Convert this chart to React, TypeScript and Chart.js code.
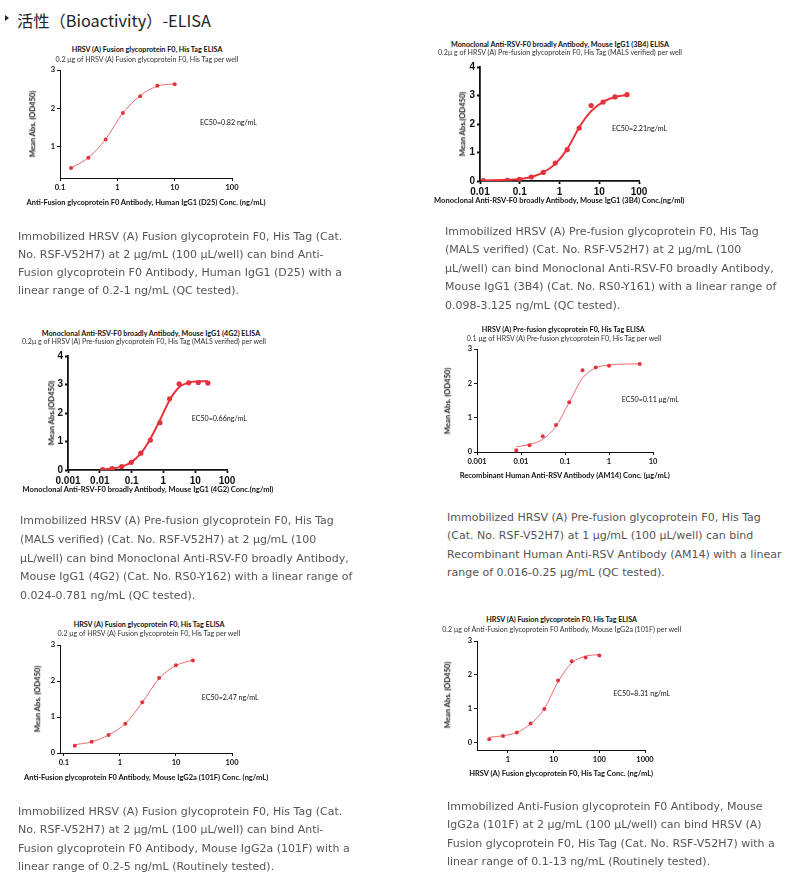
import React, { useEffect, useRef } from "react";
import { Chart, registerables } from "chart.js";
Chart.register(...registerables);

// ---------------- Data ----------------
// Chart 1
const c1Title = "HRSV (A) Fusion glycoprotein F0, His Tag ELISA";
const c1Sub = "0.2 μg of HRSV (A) Fusion glycoprotein F0, His Tag per well";
const c1XLabel = "Anti-Fusion glycoprotein F0 Antibody, Human IgG1 (D25) Conc. (ng/mL)";
const c1YLabel = "Mean Abs. (OD450)";
const c1EC50 = "EC50=0.82 ng/mL";
const c1Conc = [0.156, 0.3125, 0.625, 1.25, 2.5, 5, 10];
const c1Abs = [0.45, 0.72, 1.19, 1.88, 2.32, 2.59, 2.63];
const c1Fit = [0.45, 0.72, 1.2, 1.88, 2.33, 2.58, 2.64];
const c1XTicks = [0.1, 1, 10, 100];
const c1YTicks = [1, 2, 3];

// Chart 2
const c2Title = "Monoclonal Anti-RSV-F0 broadly Antibody, Mouse IgG1 (3B4) ELISA";
const c2Sub = "0.2μ g of HRSV (A) Pre-fusion glycoprotein F0, His Tag (MALS verified) per well";
const c2XLabel = "Monoclonal Anti-RSV-F0 broadly Antibody, Mouse IgG1 (3B4) Conc.(ng/ml)";
const c2YLabel = "Mean Abs.(OD450)";
const c2EC50 = "EC50=2.21ng/mL";
const c2Conc = [0.0122, 0.0488, 0.0977, 0.195, 0.39, 0.78, 1.5625, 3.125, 6.25, 12.5, 25, 50];
const c2Abs = [0.01, 0.02, 0.06, 0.14, 0.3, 0.63, 1.1, 1.86, 2.65, 2.77, 2.95, 3.03];
const c2Fit = [0.02, 0.04, 0.07, 0.14, 0.3, 0.6, 1.12, 1.88, 2.45, 2.78, 2.94, 3.02];
const c2XTicks = [0.01, 0.1, 1, 10, 100];
const c2YTicks = [0, 1, 2, 3, 4];

// Chart 3
const c3Title = "Monoclonal Anti-RSV-F0 broadly Antibody, Mouse IgG1 (4G2) ELISA";
const c3Sub = "0.2μ g of HRSV (A) Pre-fusion glycoprotein F0, His Tag (MALS verified) per well";
const c3XLabel = "Monoclonal Anti-RSV-F0 broadly Antibody, Mouse IgG1 (4G2) Conc.(ng/ml)";
const c3YLabel = "Mean Abs.(OD450)";
const c3EC50 = "EC50=0.66ng/mL";
const c3Conc = [0.0122, 0.0244, 0.0488, 0.0977, 0.195, 0.39, 0.78, 1.5625, 3.125, 6.25, 12.5, 25];
const c3Abs = [0.01, 0.05, 0.12, 0.27, 0.59, 1.05, 1.66, 2.5, 3.02, 3.06, 3.07, 3.05];
const c3Fit = [0.02, 0.05, 0.12, 0.27, 0.58, 1.1, 1.75, 2.45, 2.9, 3.07, 3.11, 3.12];
const c3XTicks = [0.001, 0.01, 0.1, 1, 10, 100];
const c3YTicks = [0, 1, 2, 3, 4];

// Chart 4
const c4Title = "HRSV (A) Pre-fusion glycoprotein F0, His Tag ELISA";
const c4Sub = "0.1 μg of HRSV (A) Pre-fusion glycoprotein F0, His Tag per well";
const c4XLabel = "Recombinant Human Anti-RSV Antibody (AM14) Conc. (μg/mL)";
const c4YLabel = "Mean Abs. (OD450)";
const c4EC50 = "EC50=0.11 μg/mL";
const c4Conc = [0.0078, 0.0156, 0.03125, 0.0625, 0.125, 0.25, 0.5, 1, 5];
const c4Abs = [0.05, 0.2, 0.46, 0.79, 1.45, 2.38, 2.46, 2.51, 2.56];
const c4Fit = [0.15, 0.22, 0.37, 0.75, 1.45, 2.15, 2.45, 2.53, 2.57];
const c4XTicks = [0.001, 0.01, 0.1, 1, 10];
const c4YTicks = [0, 1, 2, 3];

// Chart 5
const c5Title = "HRSV (A) Fusion glycoprotein F0, His Tag ELISA";
const c5Sub = "0.2 μg of HRSV (A) Fusion glycoprotein F0, His Tag per well";
const c5XLabel = "Anti-Fusion glycoprotein F0 Antibody, Mouse IgG2a (101F) Conc. (ng/mL)";
const c5YLabel = "Mean Abs. (OD450)";
const c5EC50 = "EC50=2.47 ng/mL";
const c5Conc = [0.156, 0.3125, 0.625, 1.25, 2.5, 5, 10, 20];
const c5Abs = [0.2, 0.31, 0.5, 0.81, 1.41, 2.08, 2.44, 2.57];
const c5Fit = [0.23, 0.31, 0.5, 0.82, 1.4, 2.07, 2.43, 2.58];
const c5XTicks = [0.1, 1, 10, 100];
const c5YTicks = [0, 1, 2, 3];

// Chart 6
const c6Title = "HRSV (A) Fusion glycoprotein F0, His Tag ELISA";
const c6Sub = "0.2 μg of Anti-Fusion glycoprotein F0 Antibody, Mouse IgG2a (101F) per well";
const c6XLabel = "HRSV (A) Fusion glycoprotein F0, His Tag Conc. (ng/mL)";
const c6YLabel = "Mean Abs. (OD450)";
const c6EC50 = "EC50=8.31 ng/mL";
const c6Conc = [0.39, 0.78, 1.5625, 3.125, 6.25, 12.5, 25, 50, 100];
const c6Abs = [0.1, 0.19, 0.3, 0.56, 0.99, 1.83, 2.4, 2.51, 2.57];
const c6Fit = [0.16, 0.2, 0.3, 0.55, 1.0, 1.8, 2.35, 2.55, 2.6];
const c6XTicks = [1, 10, 100, 1000];
const c6YTicks = [0, 1, 2, 3];

// Paragraphs
const heading = "活性（Bioactivity）-ELISA";
const p1 = [
  "Immobilized HRSV (A) Fusion glycoprotein F0, His Tag (Cat.",
  "No. RSF-V52H7) at 2 μg/mL (100 μL/well) can bind Anti-",
  "Fusion glycoprotein F0 Antibody, Human IgG1 (D25) with a",
  "linear range of 0.2-1 ng/mL (QC tested).",
];
const p2 = [
  "Immobilized HRSV (A) Pre-fusion glycoprotein F0, His Tag",
  "(MALS verified) (Cat. No. RSF-V52H7) at 2 μg/mL (100",
  "μL/well) can bind Monoclonal Anti-RSV-F0 broadly Antibody,",
  "Mouse IgG1 (3B4) (Cat. No. RS0-Y161) with a linear range of",
  "0.098-3.125 ng/mL (QC tested).",
];
const p3 = [
  "Immobilized HRSV (A) Pre-fusion glycoprotein F0, His Tag",
  "(MALS verified) (Cat. No. RSF-V52H7) at 2 μg/mL (100",
  "μL/well) can bind Monoclonal Anti-RSV-F0 broadly Antibody,",
  "Mouse IgG1 (4G2) (Cat. No. RS0-Y162) with a linear range of",
  "0.024-0.781 ng/mL (QC tested).",
];
const p4 = [
  "Immobilized HRSV (A) Pre-fusion glycoprotein F0, His Tag",
  "(Cat. No. RSF-V52H7) at 1 μg/mL (100 μL/well) can bind",
  "Recombinant Human Anti-RSV Antibody (AM14) with a linear",
  "range of 0.016-0.25 μg/mL (QC tested).",
];
const p5 = [
  "Immobilized HRSV (A) Fusion glycoprotein F0, His Tag (Cat.",
  "No. RSF-V52H7) at 2 μg/mL (100 μL/well) can bind Anti-",
  "Fusion glycoprotein F0 Antibody, Mouse IgG2a (101F) with a",
  "linear range of 0.2-5 ng/mL (Routinely tested).",
];
const p6 = [
  "Immobilized Anti-Fusion glycoprotein F0 Antibody, Mouse",
  "IgG2a (101F) at 2 μg/mL (100 μL/well) can bind HRSV (A)",
  "Fusion glycoprotein F0, His Tag (Cat. No. RSF-V52H7) with a",
  "linear range of 0.1-13 ng/mL (Routinely tested).",
];

// ---------------- Layout / style ----------------
type Spec = {
  conc: number[]; abs: number[]; fit: number[];
  xTicks: number[]; yTicks: number[];
  xMin: number; xMax: number; yMin: number; yMax: number;
  L: number; R: number; T: number; B: number;
  heavy: boolean;
  title: string; sub: string; xLabel: string; yLabel: string; ec50: string;
  titleX: number; titleY: number; subX: number; subY: number;
  yLabX: number; xLabY: number; ecX: number; ecY: number;
};

const specs: Spec[] = [
  { conc: c1Conc, abs: c1Abs, fit: c1Fit, xTicks: c1XTicks, yTicks: c1YTicks,
    xMin: 0.1, xMax: 100, yMin: 0.19, yMax: 3, L: 60, R: 232, T: 70, B: 178, heavy: false,
    title: c1Title, sub: c1Sub, xLabel: c1XLabel, yLabel: c1YLabel, ec50: c1EC50,
    titleX: 147, titleY: 50, subX: 147, subY: 59.5, yLabX: 33, xLabY: 203, ecX: 200, ecY: 123 },
  { conc: c2Conc, abs: c2Abs, fit: c2Fit, xTicks: c2XTicks, yTicks: c2YTicks,
    xMin: 0.01, xMax: 100, yMin: 0, yMax: 4, L: 480, R: 638.5, T: 66.7, B: 180.3, heavy: true,
    title: c2Title, sub: c2Sub, xLabel: c2XLabel, yLabel: c2YLabel, ec50: c2EC50,
    titleX: 560, titleY: 45, subX: 560, subY: 53.3, yLabX: 463, xLabY: 200.7, ecX: 612, ecY: 129 },
  { conc: c3Conc, abs: c3Abs, fit: c3Fit, xTicks: c3XTicks, yTicks: c3YTicks,
    xMin: 0.001, xMax: 100, yMin: 0, yMax: 4, L: 68.3, R: 227.7, T: 355.7, B: 469.3, heavy: true,
    title: c3Title, sub: c3Sub, xLabel: c3XLabel, yLabel: c3YLabel, ec50: c3EC50,
    titleX: 151, titleY: 334, subX: 144, subY: 342.3, yLabX: 51.7, xLabY: 490, ecX: 191.7, ecY: 419 },
  { conc: c4Conc, abs: c4Abs, fit: c4Fit, xTicks: c4XTicks, yTicks: c4YTicks,
    xMin: 0.001, xMax: 10, yMin: 0, yMax: 3, L: 476.7, R: 652.7, T: 349.3, B: 452.7, heavy: false,
    title: c4Title, sub: c4Sub, xLabel: c4XLabel, yLabel: c4YLabel, ec50: c4EC50,
    titleX: 563.3, titleY: 330, subX: 564, subY: 339, yLabX: 448.3, xLabY: 476, ecX: 621.7, ecY: 400 },
  { conc: c5Conc, abs: c5Abs, fit: c5Fit, xTicks: c5XTicks, yTicks: c5YTicks,
    xMin: 0.085, xMax: 100, yMin: 0, yMax: 3, L: 60, R: 232.3, T: 645, B: 753, heavy: false,
    title: c5Title, sub: c5Sub, xLabel: c5XLabel, yLabel: c5YLabel, ec50: c5EC50,
    titleX: 149, titleY: 625, subX: 149, subY: 634.3, yLabX: 38.3, xLabY: 778.3, ecX: 201.7, ecY: 698.3 },
  { conc: c6Conc, abs: c6Abs, fit: c6Fit, xTicks: c6XTicks, yTicks: c6YTicks,
    xMin: 0.21, xMax: 1000, yMin: -0.22, yMax: 3, L: 477.3, R: 645, T: 640.7, B: 750, heavy: false,
    title: c6Title, sub: c6Sub, xLabel: c6XLabel, yLabel: c6YLabel, ec50: c6EC50,
    titleX: 561.7, titleY: 620, subX: 561.7, subY: 630, yLabX: 448.3, xLabY: 774, ecX: 613.3, ecY: 694 },
];

const RED = "#e3323e";
const CHART_FONT = "Lato, 'Open Sans', sans-serif";

function MiniChart({ s }: { s: Spec }) {
  const ref = useRef<HTMLCanvasElement>(null);
  const padL = 40, padT = 12, padR = 28, padB = 26;
  const w = Math.round(s.R - s.L + padL + padR);
  const h = Math.round(s.B - s.T + padT + padB);
  useEffect(() => {
    const tickFont: any = s.heavy
      ? { family: "'Liberation Sans', Arial, sans-serif", size: 10, weight: "bold" }
      : { family: CHART_FONT, size: 7.5, weight: "bold" };
    const axisW = s.heavy ? 1.8 : 1;
    const chart = new Chart(ref.current!, {
      type: "scatter",
      data: {
        datasets: [
          {
            data: s.conc.map((x, i) => ({ x, y: s.abs[i] })),
            pointRadius: s.heavy ? 2.6 : 2,
            pointBackgroundColor: RED,
            pointBorderWidth: 0,
            showLine: false,
            order: 0,
          },
          {
            data: s.conc.map((x, i) => ({ x, y: s.fit[i] })),
            showLine: true,
            pointRadius: 0,
            borderColor: s.heavy ? "#e8323c" : "#ec6a6a",
            borderWidth: s.heavy ? 2 : 1,
            cubicInterpolationMode: "monotone",
            fill: false,
            order: 1,
          },
        ],
      } as any,
      options: {
        animation: false,
        responsive: false,
        devicePixelRatio: 1,
        events: [],
        layout: { padding: { left: 0, top: padT, right: padR, bottom: 0 } },
        plugins: { legend: { display: false }, tooltip: { enabled: false }, title: { display: false } },
        scales: {
          x: {
            type: "logarithmic",
            position: "bottom",
            min: s.xMin,
            max: s.xMax,
            afterFit: (sc: any) => { sc.height = padB; },
            afterBuildTicks: (sc: any) => { sc.ticks = s.xTicks.map((v) => ({ value: v })); },
            ticks: { callback: (v: any) => String(v), font: tickFont, color: "#111", padding: 2, maxRotation: 0, autoSkip: false },
            grid: { display: true, drawOnChartArea: false, drawTicks: true, tickLength: 3, tickWidth: axisW, tickColor: "#111", color: "#111" },
            border: { display: true, color: "#111", width: axisW },
          },
          y: {
            type: "linear",
            min: s.yMin,
            max: s.yMax,
            afterFit: (sc: any) => { sc.width = padL; },
            afterBuildTicks: (sc: any) => { sc.ticks = s.yTicks.map((v) => ({ value: v })); },
            ticks: { callback: (v: any) => String(v), font: tickFont, color: "#111", padding: 2, autoSkip: false },
            grid: { display: true, drawOnChartArea: false, drawTicks: true, tickLength: 3, tickWidth: axisW, tickColor: "#111", color: "#111" },
            border: { display: true, color: "#111", width: axisW },
          },
        },
      } as any,
    });
    return () => chart.destroy();
  }, []);
  return (
    <canvas
      ref={ref}
      width={w}
      height={h}
      style={{ position: "absolute", left: Math.round(s.L - padL), top: Math.round(s.T - padT), width: w, height: h }}
    />
  );
}

function Label({ x, y, text, size, bold, color, align }: any) {
  const tx = align === "left" ? "0" : "-50%";
  return (
    <div
      style={{
        position: "absolute",
        left: x,
        top: y,
        transform: `translate(${tx}, -50%)`,
        whiteSpace: "nowrap",
        fontFamily: CHART_FONT,
        fontSize: size,
        fontWeight: bold ? 700 : 400,
        color: color || "#111",
        lineHeight: 1,
      }}
    >
      {text}
    </div>
  );
}

function VLabel({ x, y, text, size }: any) {
  return (
    <div
      style={{
        position: "absolute",
        left: x,
        top: y,
        transform: "translate(-50%, -50%) rotate(-90deg)",
        whiteSpace: "nowrap",
        fontFamily: CHART_FONT,
        fontSize: size,
        fontWeight: 700,
        color: "#111",
        lineHeight: 1,
      }}
    >
      {text}
    </div>
  );
}

function ChartTexts({ s }: { s: Spec }) {
  return (
    <>
      <Label x={s.titleX} y={s.titleY} text={s.title} size={7.2} bold />
      <Label x={s.subX} y={s.subY} text={s.sub} size={7.1} color="#333" />
      <VLabel x={s.yLabX} y={(s.T + s.B) / 2} text={s.yLabel} size={7.6} />
      <Label x={(s.L + s.R) / 2} y={s.xLabY} text={s.xLabel} size={7.5} bold />
      <Label x={s.ecX} y={s.ecY} text={s.ec50} size={7.1} align="left" />
    </>
  );
}

function Para({ x, y, lh, lines }: { x: number; y: number; lh: number; lines: string[] }) {
  return (
    <div
      style={{
        position: "absolute",
        left: x,
        top: y - lh / 2,
        fontFamily: "'DejaVu Sans', Verdana, sans-serif",
        fontSize: 11,
        lineHeight: `${lh}px`,
        color: "#555",
        whiteSpace: "nowrap",
      }}
    >
      {lines.map((l, i) => (
        <div key={i}>{l}</div>
      ))}
    </div>
  );
}

export default function App() {
  return (
    <div style={{ position: "absolute", left: 0, top: 0, width: 800, height: 890, background: "#fff", overflow: "hidden" }}>
      <div
        style={{
          position: "absolute", left: 5, top: 15, width: 0, height: 0,
          borderTop: "3px solid transparent", borderBottom: "3px solid transparent", borderLeft: "4px solid #222",
        }}
      />
      <div
        style={{
          position: "absolute", left: 17, top: 20, transform: "translateY(-50%)",
          fontFamily: "'Noto Sans CJK SC', sans-serif", fontSize: 16.3, color: "#222", whiteSpace: "nowrap", lineHeight: 1,
        }}
      >
        {heading}
      </div>
      {specs.map((s, i) => (
        <React.Fragment key={i}>
          <MiniChart s={s} />
          <ChartTexts s={s} />
        </React.Fragment>
      ))}
      <Para x={18} y={236.7} lh={18.3} lines={p1} />
      <Para x={445} y={232.3} lh={18.35} lines={p2} />
      <Para x={20} y={521.7} lh={18.7} lines={p3} />
      <Para x={447} y={518} lh={18.5} lines={p4} />
      <Para x={18} y={812} lh={18.5} lines={p5} />
      <Para x={447} y={807} lh={18.5} lines={p6} />
    </div>
  );
}
